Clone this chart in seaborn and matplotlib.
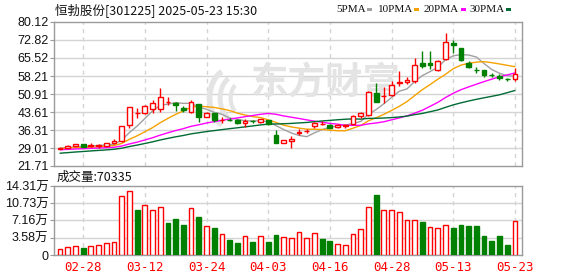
import numpy as np
import pandas as pd
import matplotlib
matplotlib.use("Agg")
import matplotlib.pyplot as plt
import seaborn as sns
from matplotlib.patches import Rectangle, Arc

# ---------------- data ----------------
dates = ["02-25", "02-26", "02-27", "02-28", "03-03", "03-04", "03-05", "03-06", "03-07", "03-10",
         "03-11", "03-12", "03-13", "03-14", "03-17", "03-18", "03-19", "03-20", "03-21", "03-24",
         "03-25", "03-26", "03-27", "03-28", "03-31", "04-01", "04-02", "04-03", "04-07", "04-08",
         "04-09", "04-10", "04-11", "04-14", "04-15", "04-16", "04-17", "04-18", "04-21", "04-22",
         "04-23", "04-24", "04-25", "04-28", "04-29", "04-30", "05-06", "05-07", "05-08", "05-09",
         "05-12", "05-13", "05-14", "05-15", "05-16", "05-19", "05-20", "05-21", "05-22", "05-23"]
open_ = [28.8, 29.1, 29.9, 30.6, 30.0, 30.0, 29.8, 31.0, 31.8, 38.2,
         43.3, 43.4, 44.8, 45.0, 47.8, 47.4, 45.2, 43.8, 46.9, 41.6,
         43.1, 40.2, 40.5, 40.3, 39.1, 40.1, 39.5, 40.2, 34.4, 31.2,
         31.7, 35.0, 35.8, 37.9, 38.9, 38.3, 37.4, 37.8, 38.8, 42.0,
         42.2, 51.5, 50.0, 50.6, 55.3, 55.8, 56.0, 63.6, 63.5, 60.8,
         65.1, 71.8, 69.4, 63.6, 60.8, 60.6, 58.7, 58.2, 57.1, 57.0]
high = [29.2, 30.2, 30.7, 30.7, 31.0, 30.7, 31.0, 32.5, 38.0, 45.8,
        45.1, 46.4, 48.5, 53.2, 49.6, 47.7, 46.0, 48.3, 47.0, 43.5,
        43.4, 41.7, 41.2, 40.6, 40.8, 40.3, 40.9, 40.4, 36.5, 32.4,
        33.9, 36.7, 36.9, 39.4, 39.8, 38.6, 38.7, 38.8, 42.3, 43.6,
        52.1, 55.5, 53.9, 56.2, 60.2, 57.9, 65.6, 68.4, 68.4, 64.8,
        75.5, 72.8, 69.5, 64.2, 62.0, 60.7, 59.4, 59.0, 57.6, 61.3]
low = [28.6, 28.9, 29.6, 29.4, 29.4, 29.2, 29.6, 30.7, 31.6, 37.0,
       41.0, 42.9, 43.1, 43.5, 46.5, 44.1, 43.5, 43.4, 39.7, 41.4,
       39.6, 39.0, 39.8, 38.9, 37.7, 39.0, 39.2, 38.5, 31.0, 31.0,
       28.9, 34.2, 35.0, 37.3, 38.3, 37.0, 37.0, 37.3, 38.3, 41.2,
       41.9, 47.5, 47.1, 50.1, 54.1, 55.1, 55.2, 61.3, 61.0, 60.3,
       64.7, 67.7, 64.2, 61.3, 59.5, 57.7, 57.7, 56.5, 56.3, 56.3]
close = [29.0, 29.7, 30.5, 29.6, 30.1, 30.2, 30.9, 31.8, 37.9, 45.6,
         43.3, 46.1, 47.2, 49.6, 47.8, 46.5, 44.4, 47.8, 41.7, 43.2,
         40.2, 40.5, 40.3, 39.2, 40.1, 39.9, 40.6, 38.7, 31.2, 32.2,
         32.8, 35.7, 36.1, 39.0, 38.9, 37.3, 38.3, 38.4, 41.8, 43.1,
         51.9, 47.8, 50.2, 54.6, 55.7, 56.6, 62.7, 62.4, 62.6, 64.5,
         71.9, 70.6, 64.8, 61.8, 60.5, 58.6, 58.5, 57.3, 56.9, 59.0]
volume = [12400, 16000, 18000, 14500, 18000, 20000, 24000, 27000, 122000, 132000,
          93000, 104000, 93000, 99000, 67000, 75000, 62000, 97000, 79000, 60000,
          56000, 43500, 31000, 25500, 39000, 27000, 39000, 27000, 41500, 37000,
          34500, 48000, 34500, 45000, 33000, 29000, 22000, 20000, 43000, 53000,
          99000, 124000, 93000, 93000, 88500, 72000, 72000, 68500, 57500, 55000,
          61500, 56000, 62000, 60000, 60000, 39000, 29000, 39000, 21000, 70335]
# closes before the visible window (needed for the moving averages)
prior_close = [22.6, 23.0, 23.4, 23.3, 23.9, 24.5, 24.3, 24.8, 25.2, 26.0,
               26.6, 27.2, 27.0, 27.5, 28.1, 27.9, 28.3, 28.0, 28.6, 28.8,
               28.4, 28.9, 28.5, 28.7, 28.5, 28.8, 29.1, 29.2, 28.9]

ma_windows = [5, 10, 20, 30]
ma_labels = ["5PMA", "10PMA", "20PMA", "30PMA"]
ma_colors = ["#a0a0a0", "#f5a200", "#ff00ff", "#006b35"]

price_ticks = [21.71, 29.01, 36.31, 43.61, 50.91, 58.21, 65.52, 72.82, 80.12]
vol_ticks = [0, 3.58, 7.16, 10.73, 14.31]
vol_tick_labels = ["0", "3.58万", "7.16万", "10.73万", "14.31万"]
date_ticks = ["02-28", "03-12", "03-24", "04-03", "04-16", "04-28", "05-13", "05-23"]

title = "恒勃股份[301225] 2025-05-23 15:30"
vol_title = "成交量:70335"
watermark = "东方财富"

# ---------------- style ----------------
sns.set_theme(style="white")
plt.rcParams["font.family"] = ["Liberation Sans", "Noto Sans CJK SC", "DejaVu Sans"]

RED = "#ff0000"
GREEN = "#008000"
GRID = "#d4d4d4"
FRAME = "#9a9a9a"
WM = "#e4e4e4"

W, H = 578, 276
fig = plt.figure(figsize=(W / 100, H / 100), dpi=100)
fig.patch.set_facecolor("white")

def fx(px):
    return px / W

def fy(py):
    return 1 - py / H

ax = fig.add_axes([fx(54), fy(166), fx(522) - fx(54), fy(22) - fy(166)])
axv = fig.add_axes([fx(54), fy(255), fx(522) - fx(54), fy(186) - fy(255)])

n = len(close)
x = np.arange(n)
o = np.array(open_)
c = np.array(close)
h = np.array(high)
l = np.array(low)
up = c >= o
prev = np.concatenate([[prior_close[-1]], c[:-1]])
vol_up = c >= prev
date_pos = [dates.index(d) for d in date_ticks]

xlim = (-0.78, 59.92)
bw = 0.62

for a in (ax, axv):
    a.set_facecolor("white")
    a.set_xlim(*xlim)
    for s in a.spines.values():
        s.set_color(FRAME)
        s.set_linewidth(1.0)
    for p in date_pos:
        a.axvline(p, color=GRID, lw=1.0, ls=(0, (3, 3)), zorder=0)

# ---- price panel ----
ax.set_ylim(price_ticks[0], price_ticks[-1])
ax.set_yticks(price_ticks)
ax.set_yticklabels([f"{t:.2f}" for t in price_ticks], fontsize=9, color="#111111")
for t in price_ticks[1:-1]:
    ax.axhline(t, color=GRID, lw=1.0, zorder=0)
ax.set_xticks([])
ax.tick_params(axis="y", length=3, width=0.8, color=FRAME, pad=1, left=True)

# watermark (logo swirl + text), placed in axes-fraction coordinates
for (cx, cy, rw, rh, lw_) in [(0.375, 0.47, 0.085, 0.40, 4.0),
                              (0.385, 0.47, 0.060, 0.30, 3.5),
                              (0.395, 0.47, 0.035, 0.20, 3.0)]:
    ax.add_patch(Arc((cx, cy), rw, rh, theta1=95, theta2=265, transform=ax.transAxes,
                     edgecolor=WM, lw=lw_, zorder=0.6))
ax.text(0.58, 0.58, watermark, transform=ax.transAxes, fontsize=27,
        family=["Noto Sans CJK SC"], color=WM, ha="center", va="center",
        fontweight="bold", style="italic", zorder=0.5)

# moving averages from the close series
all_close = pd.Series(prior_close + close, dtype=float)
for w_, lab, col in zip(ma_windows, ma_labels, ma_colors):
    ma = all_close.rolling(w_).mean().iloc[len(prior_close):].to_numpy()
    sns.lineplot(x=x, y=ma, ax=ax, color=col, lw=1.0, legend=False, zorder=2)

# candles
for i in range(n):
    if up[i]:
        top, bot = c[i], o[i]
        ax.vlines(i, top, h[i], color=RED, lw=1.0, zorder=3)
        ax.vlines(i, l[i], bot, color=RED, lw=1.0, zorder=3)
        ax.bar(i, top - bot, bottom=bot, width=bw, facecolor="white",
               edgecolor=RED, lw=1.0, zorder=4)
    else:
        ax.vlines(i, l[i], h[i], color=GREEN, lw=1.0, zorder=3)
        ax.bar(i, o[i] - c[i], bottom=c[i], width=bw, facecolor=GREEN,
               edgecolor=GREEN, lw=1.0, zorder=4)

# ---- volume panel ----
vol_w = np.array(volume) / 10000.0
axv.set_ylim(0, vol_ticks[-1])
axv.set_yticks(vol_ticks)
axv.set_yticklabels(vol_tick_labels, fontsize=9, color="#111111")
for t in vol_ticks[1:-1]:
    axv.axhline(t, color=GRID, lw=1.0, zorder=0)
axv.tick_params(axis="y", length=3, width=0.8, color=FRAME, pad=1, left=True)
for i in range(n):
    if vol_up[i]:
        axv.bar(i, vol_w[i], width=bw, facecolor="white", edgecolor=RED, lw=1.0, zorder=3)
    else:
        axv.bar(i, vol_w[i], width=bw, facecolor=GREEN, edgecolor=GREEN, lw=1.0, zorder=3)
axv.set_xticks(date_pos)
axv.set_xticklabels(date_ticks, fontsize=9, color=RED, family=["DejaVu Sans Mono"])
axv.tick_params(axis="x", length=0, pad=4)

# ---- texts ----
fig.text(fx(55), fy(10), title, fontsize=9, color="#111111", va="center", ha="left",
         family=["Noto Sans CJK SC", "DejaVu Sans"])
fig.text(fx(57), fy(177), vol_title, fontsize=9, color="#111111", va="center", ha="left",
         family=["Noto Sans CJK SC", "DejaVu Sans"])

leg_x = [336, 378, 424, 470]
sq_x = [367, 414, 461, 506]
for lab, col, lx, sx in zip(ma_labels, ma_colors, leg_x, sq_x):
    fig.text(fx(lx), fy(10), lab, fontsize=8, family=["Liberation Serif"],
             color="#111111", va="center", ha="left")
    fig.patches.append(Rectangle((fx(sx), fy(11)), fx(5), 3 / H, transform=fig.transFigure,
                                 facecolor=col, edgecolor="none"))

fig.savefig("out.png", dpi=100, facecolor="white")
